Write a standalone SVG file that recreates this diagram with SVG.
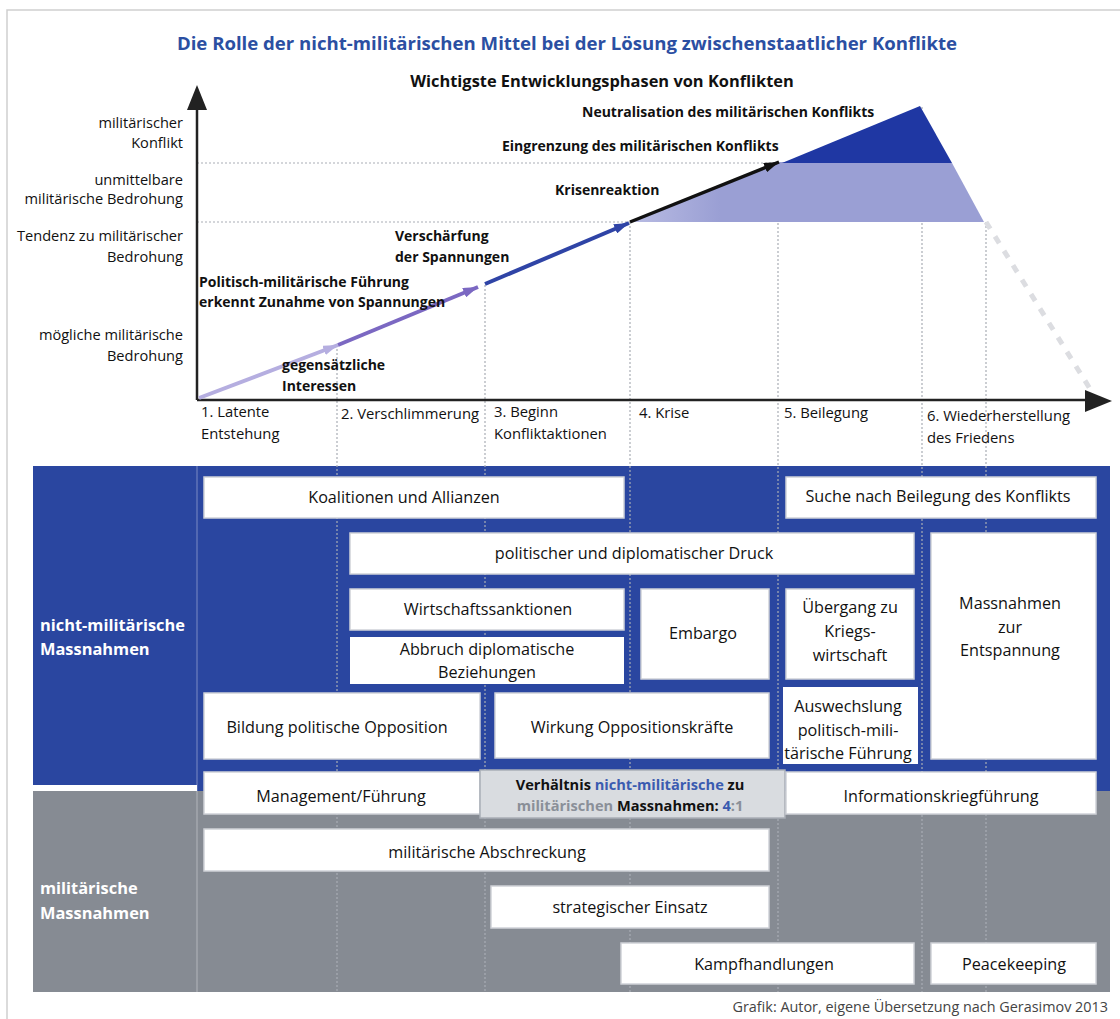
<svg xmlns="http://www.w3.org/2000/svg" width="1120" height="1019" viewBox="0 0 1120 1019">
  <style>
    text { font-family: "Open Sans", "Liberation Sans", sans-serif; fill: #111; }
    .ylab { font-size: 14.6px; text-anchor: end; }
    .xlab { font-size: 14.8px; }
    .note { font-size: 14px; font-weight: bold; }
    .box { fill: #fff; stroke: #cfd2d8; stroke-width: 1.5; }
    .plain { fill: #fff; }
    .bt { font-size: 16.2px; text-anchor: middle; }
    .zone { font-size: 16.4px; font-weight: bold; fill: #fff; }
    .grid { stroke: #a9adb5; stroke-width: 1.2; stroke-dasharray: 2 2; fill: none; }
    .blue { fill: #3a5bb0; }
    .grey { fill: #8a8f98; }
  </style>
  <defs>
    <marker id="ah1" markerUnits="userSpaceOnUse" markerWidth="16" markerHeight="10" refX="15" refY="5" orient="auto">
      <path d="M0,0 L15,5 L0,10 z" fill="#b5aee0"/>
    </marker>
    <marker id="ah2" markerUnits="userSpaceOnUse" markerWidth="16" markerHeight="10" refX="15" refY="5" orient="auto">
      <path d="M0,0 L15,5 L0,10 z" fill="#7b68c2"/>
    </marker>
    <marker id="ah3" markerUnits="userSpaceOnUse" markerWidth="16" markerHeight="10" refX="15" refY="5" orient="auto">
      <path d="M0,0 L15,5 L0,10 z" fill="#2f44a6"/>
    </marker>
    <marker id="ah4" markerUnits="userSpaceOnUse" markerWidth="16" markerHeight="10" refX="15" refY="5" orient="auto">
      <path d="M0,0 L15,5 L0,10 z" fill="#111"/>
    </marker>
    <linearGradient id="lav" x1="630" y1="0" x2="720" y2="0" gradientUnits="userSpaceOnUse">
      <stop offset="0" stop-color="#b9bce3"/>
      <stop offset="1" stop-color="#9a9fd4"/>
    </linearGradient>
  </defs>

  <!-- page -->
  <rect x="0" y="0" width="1120" height="1019" fill="#fff"/>
  <path d="M7,1019 V10 H1120" fill="none" stroke="#cfcfcf" stroke-width="1.5"/>

  <!-- headings -->
  <rect x="84" y="27" width="968" height="33" fill="#fff"/>
  <text x="567" y="50" text-anchor="middle" style="font-size:18.6px;font-weight:bold;fill:#2b4fa2">Die Rolle der nicht-militärischen Mittel bei der Lösung zwischenstaatlicher Konflikte</text>
  <text x="602" y="87" text-anchor="middle" style="font-size:16.4px;font-weight:bold">Wichtigste Entwicklungsphasen von Konflikten</text>

  <!-- measure zones -->
  <g id="zone-nonmilitary">
    <rect x="33" y="466" width="1077" height="319" fill="#2a46a0"/>
    <text class="zone" x="40" y="631">nicht-militärische</text>
    <text class="zone" x="40" y="655">Massnahmen</text>
  </g>
  <g id="zone-military">
    <rect x="33" y="791" width="1077" height="201" fill="#868b93"/>
    <rect x="197" y="770" width="913" height="21" fill="#2a46a0"/>
    <text class="zone" x="40" y="894">militärische</text>
    <text class="zone" x="40" y="919">Massnahmen</text>
  </g>
  <line x1="197" y1="466" x2="197" y2="992" stroke="#ffffff" stroke-opacity="0.25" stroke-width="1.5"/>

  <!-- phase grid -->
  <g id="grid">
    <line class="grid" x1="197" y1="163" x2="778" y2="163"/>
    <line class="grid" x1="197" y1="222" x2="630" y2="222"/>
    <line class="grid" x1="337" y1="345" x2="337" y2="992"/>
    <line class="grid" x1="485" y1="285" x2="485" y2="992"/>
    <line class="grid" x1="630" y1="222" x2="630" y2="992"/>
    <line class="grid" x1="778" y1="163" x2="778" y2="992"/>
    <line class="grid" x1="922" y1="107" x2="922" y2="992"/>
    <line class="grid" x1="986" y1="222" x2="986" y2="992"/>
  </g>

  <!-- escalation areas -->
  <polygon id="area-crisis" points="630,222 780,162 952,163 984,222" fill="url(#lav)"/>
  <polygon id="area-conflict" points="782,163 920,106 952,163" fill="#1f37a3"/>
  <line x1="986" y1="222" x2="1092" y2="392" stroke="#dcdde1" stroke-width="5" stroke-dasharray="8 9"/>

  <!-- axes -->
  <g id="axes">
    <line x1="197" y1="400" x2="197" y2="100" stroke="#222" stroke-width="2.5"/>
    <polygon points="197,85 187,110 207,110" fill="#222"/>
    <line x1="197" y1="400" x2="1090" y2="400" stroke="#222" stroke-width="2.5"/>
    <polygon points="1112,401 1085,390 1085,412" fill="#222"/>
  </g>

  <!-- escalation connectors -->
  <g id="connectors" fill="none" stroke-linecap="butt">
    <line x1="199" y1="398" x2="338" y2="345" stroke="#b5aee0" stroke-width="4" marker-end="url(#ah1)"/>
    <line x1="338" y1="345" x2="478" y2="287" stroke="#7b68c2" stroke-width="4" marker-end="url(#ah2)"/>
    <line x1="485" y1="284" x2="629" y2="223" stroke="#2f44a6" stroke-width="4" marker-end="url(#ah3)"/>
    <line x1="630" y1="222" x2="779" y2="162" stroke="#111" stroke-width="3.5" marker-end="url(#ah4)"/>
  </g>

  <!-- y-axis levels -->
  <g id="levels">
    <text class="ylab" x="183" y="128">militärischer</text>
    <text class="ylab" x="183" y="148">Konflikt</text>
    <text class="ylab" x="183" y="185">unmittelbare</text>
    <text class="ylab" x="183" y="204">militärische Bedrohung</text>
    <text class="ylab" x="183" y="241">Tendenz zu militärischer</text>
    <text class="ylab" x="183" y="262">Bedrohung</text>
    <text class="ylab" x="183" y="340">mögliche militärische</text>
    <text class="ylab" x="183" y="361">Bedrohung</text>
  </g>

  <!-- phases -->
  <g id="phases">
    <text class="xlab" x="201" y="417">1. Latente</text>
    <text class="xlab" x="201" y="439">Entstehung</text>
    <text class="xlab" x="341" y="419">2. Verschlimmerung</text>
    <text class="xlab" x="494" y="417">3. Beginn</text>
    <text class="xlab" x="494" y="439">Konfliktaktionen</text>
    <text class="xlab" x="639" y="418">4. Krise</text>
    <text class="xlab" x="784" y="418">5. Beilegung</text>
    <text class="xlab" x="927" y="421">6. Wiederherstellung</text>
    <text class="xlab" x="927" y="443">des Friedens</text>
  </g>

  <!-- escalation notes -->
  <g id="notes">
    <text class="note" x="582" y="117">Neutralisation des militärischen Konflikts</text>
    <text class="note" x="502" y="151">Eingrenzung des militärischen Konflikts</text>
    <text class="note" x="555" y="195">Krisenreaktion</text>
    <text class="note" x="395" y="241">Verschärfung</text>
    <text class="note" x="395" y="262">der Spannungen</text>
    <text class="note" x="199" y="287">Politisch-militärische Führung</text>
    <text class="note" x="199" y="307">erkennt Zunahme von Spannungen</text>
    <text class="note" x="282" y="370">gegensätzliche</text>
    <text class="note" x="282" y="391">Interessen</text>
  </g>

  <!-- non-military measures -->
  <g id="koalitionen"><rect class="box" x="204" y="477" width="420" height="41"/><text class="bt" x="404" y="503">Koalitionen und Allianzen</text></g>
  <g id="suche"><rect class="box" x="786" y="477" width="310" height="41"/><text class="bt" x="938" y="502">Suche nach Beilegung des Konflikts</text></g>
  <g id="druck"><rect class="box" x="350" y="533" width="564" height="41"/><text class="bt" x="634" y="559">politischer und diplomatischer Druck</text></g>
  <g id="entspannung"><rect class="box" x="931" y="533" width="165" height="226"/><text class="bt" x="1010" y="609">Massnahmen</text><text class="bt" x="1010" y="633">zur</text><text class="bt" x="1010" y="656">Entspannung</text></g>
  <g id="wirtschaftssanktionen"><rect class="box" x="350" y="589" width="274" height="41"/><text class="bt" x="488" y="615">Wirtschaftssanktionen</text></g>
  <g id="abbruch"><rect class="plain" x="350" y="637" width="274" height="47"/><text class="bt" x="487" y="655">Abbruch diplomatische</text><text class="bt" x="487" y="678">Beziehungen</text></g>
  <g id="embargo"><rect class="box" x="641" y="589" width="128" height="90"/><text class="bt" x="703" y="639">Embargo</text></g>
  <g id="kriegswirtschaft"><rect class="box" x="786" y="589" width="128" height="90"/><text class="bt" x="850" y="613">Übergang zu</text><text class="bt" x="850" y="637">Kriegs-</text><text class="bt" x="850" y="661">wirtschaft</text></g>
  <g id="opposition"><rect class="box" x="204" y="693" width="276" height="66"/><text class="bt" x="337" y="733">Bildung politische Opposition</text></g>
  <g id="oppositionskraefte"><rect class="box" x="495" y="693" width="274" height="65"/><text class="bt" x="632" y="733">Wirkung Oppositionskräfte</text></g>
  <g id="auswechslung"><rect class="plain" x="783" y="687" width="135" height="77"/><text class="bt" x="848" y="712">Auswechslung</text><text class="bt" x="848" y="736">politisch-mili-</text><text class="bt" x="848" y="759">tärische Führung</text></g>

  <!-- shared row -->
  <g id="management"><rect class="box" x="204" y="772" width="276" height="42"/><text class="bt" x="341" y="802">Management/Führung</text></g>
  <g id="verhaeltnis">
    <rect x="480" y="770" width="305" height="48" fill="#d9dce0" stroke="#a9aeb6" stroke-width="1.5"/>
    <text x="630" y="790" text-anchor="middle" style="font-size:14.6px;font-weight:bold">Verhältnis <tspan class="blue">nicht-militärische</tspan> zu</text>
    <text x="630" y="811" text-anchor="middle" style="font-size:14.6px;font-weight:bold"><tspan class="grey">militärischen</tspan> Massnahmen: <tspan class="blue">4</tspan><tspan class="grey">:1</tspan></text>
  </g>
  <g id="informationskrieg"><rect class="box" x="786" y="772" width="310" height="42"/><text class="bt" x="941" y="802">Informationskriegführung</text></g>

  <!-- military measures -->
  <g id="abschreckung"><rect class="box" x="204" y="829" width="565" height="42"/><text class="bt" x="487" y="858">militärische Abschreckung</text></g>
  <g id="strategisch"><rect class="box" x="491" y="886" width="278" height="42"/><text class="bt" x="630" y="913">strategischer Einsatz</text></g>
  <g id="kampf"><rect class="box" x="621" y="943" width="293" height="41"/><text class="bt" x="764" y="970">Kampfhandlungen</text></g>
  <g id="peacekeeping"><rect class="box" x="931" y="943" width="165" height="41"/><text class="bt" x="1014" y="970">Peacekeeping</text></g>

  <text x="1108" y="1012" text-anchor="end" style="font-size:14.4px;fill:#444">Grafik: Autor, eigene Übersetzung nach Gerasimov 2013</text>
</svg>
